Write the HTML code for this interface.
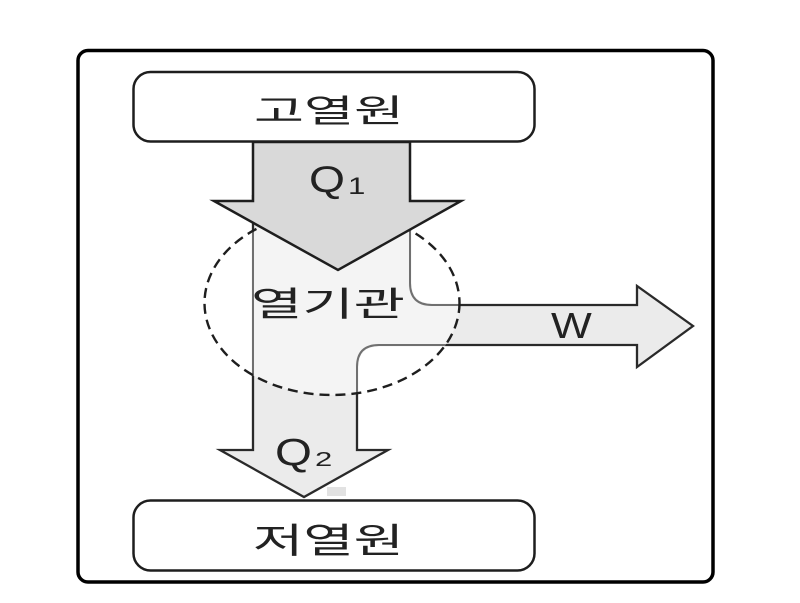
<!DOCTYPE html>
<html>
<head>
<meta charset="utf-8">
<style>
  html, body { margin: 0; padding: 0; background: #ffffff; }
  body { width: 800px; height: 603px; overflow: hidden; }
  svg { display: block; }
  .kr { font-family: "Liberation Sans", "Noto Sans CJK KR", "NanumGothic", sans-serif; fill: #222; }
  .lat { font-family: "Liberation Sans", sans-serif; fill: #222; }
</style>
</head>
<body>
<svg width="800" height="603" viewBox="0 0 800 603" xmlns="http://www.w3.org/2000/svg">
  <defs>
    <clipPath id="tclip">
      <path d="M253,195 L410,195 L410,283 Q410,305 432,305 L637,305 L637,286 L693,326 L637,367 L637,345 L379,345 Q357,345 357,367 L357,450 L388,450 L304,497 L220,450 L253,450 Z"/>
    </clipPath>
    <clipPath id="eclip">
      <ellipse cx="332" cy="303" rx="127.5" ry="92"/>
    </clipPath>
  </defs>

  <rect x="0" y="0" width="800" height="603" fill="#ffffff"/>

  <!-- outer frame -->
  <rect x="78" y="50.5" width="635" height="531.5" rx="10" ry="10" fill="none" stroke="#000" stroke-width="3.5"/>

  <!-- T-shape body (engine + W + Q2) -->
  <path d="M253,195 L410,195 L410,283 Q410,305 432,305 L637,305 L637,286 L693,326 L637,367 L637,345 L379,345 Q357,345 357,367 L357,450 L388,450 L304,497 L220,450 L253,450 Z" fill="#ebebeb"/>
  <!-- lighter engine area inside ellipse -->
  <g clip-path="url(#tclip)">
    <ellipse cx="332" cy="303" rx="127.5" ry="92" fill="#f4f4f4"/>
  </g>

  <!-- dark outlines (outside ellipse) -->
  <path d="M253,195 L253,450 L220,450 L304,497 L388,450 L357,450 L357,367 Q357,345 379,345 L637,345 L637,367 L693,326 L637,286 L637,305 L432,305 Q410,305 410,283 L410,195" fill="none" stroke="#2a2a2a" stroke-width="2.3" stroke-linejoin="miter"/>
  <!-- gray outlines inside ellipse -->
  <g clip-path="url(#eclip)">
    <path d="M253,195 L253,450 M357,450 L357,367 Q357,345 379,345 L637,345 M637,305 L432,305 Q410,305 410,283 L410,195" fill="none" stroke="#f2f2f2" stroke-width="3"/>
    <path d="M253,195 L253,450 M357,450 L357,367 Q357,345 379,345 L637,345 M637,305 L432,305 Q410,305 410,283 L410,195" fill="none" stroke="#707070" stroke-width="2"/>
  </g>

  <!-- dashed ellipse -->
  <ellipse cx="332" cy="303" rx="127.5" ry="92" fill="none" stroke="#1e1e1e" stroke-width="2.4" stroke-dasharray="10 6"/>

  <!-- Q1 arrow -->
  <path d="M253,142 L253,201 L214,201 L338,270 L461,201 L410,201 L410,142 Z" fill="#d9d9d9" stroke="#1e1e1e" stroke-width="2.5" stroke-linejoin="miter"/>

  <!-- top box -->
  <rect x="133.5" y="72" width="401" height="69.5" rx="17" ry="17" fill="#ffffff" stroke="#1e1e1e" stroke-width="2.5"/>

  <!-- bottom box -->
  <rect x="133.5" y="500.5" width="401" height="70" rx="17" ry="17" fill="#ffffff" stroke="#1e1e1e" stroke-width="2.5"/>

  <!-- small artifact -->
  <rect x="327" y="487" width="19" height="9" fill="#e2e2e2"/>

  <!-- labels -->
  <text class="kr" x="254" y="122" font-size="32" textLength="150" lengthAdjust="spacingAndGlyphs">고열원</text>
  <text class="kr" x="251" y="316" font-size="34" textLength="154" lengthAdjust="spacingAndGlyphs">열기관</text>
  <text class="kr" x="253" y="553" font-size="35" textLength="151" lengthAdjust="spacingAndGlyphs">저열원</text>

  <text class="lat" transform="translate(309,192) scale(1.25,1)" font-size="37">Q</text>
  <text class="lat" transform="translate(348,194) scale(1.3,1)" font-size="24">1</text>

  <text class="lat" transform="translate(275,465) scale(1.25,1)" font-size="38">Q</text>
  <text class="lat" transform="translate(315,466) scale(1.55,1)" font-size="20">2</text>

  <text class="lat" transform="translate(551,338) scale(1.2,1)" font-size="36">W</text>
</svg>
</body>
</html>
